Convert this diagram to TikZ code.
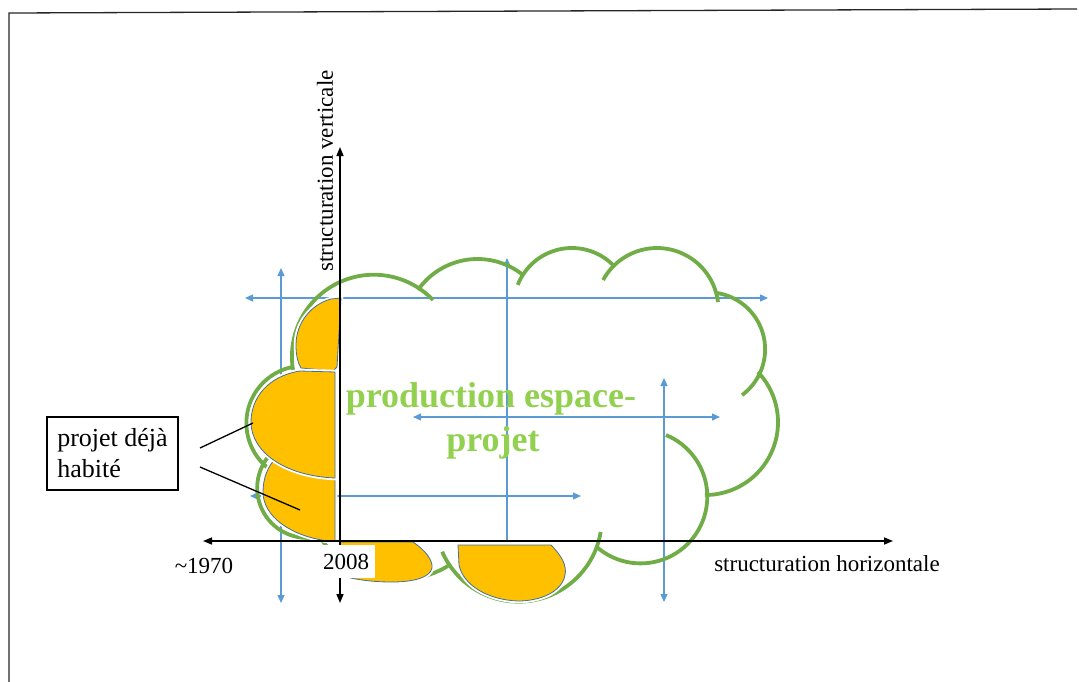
\documentclass[tikz,border=0pt]{standalone}
\usepackage{fontspec}
\setmainfont{Liberation Serif}
\usetikzlibrary{arrows.meta}
\definecolor{cloudgreen}{HTML}{70AD47}
\definecolor{titlegreen}{HTML}{92D050}
\definecolor{axisblue}{HTML}{5B9BD5}
\definecolor{lobefill}{HTML}{FFC000}
\definecolor{lobeline}{HTML}{41719C}
\begin{document}
\begin{tikzpicture}[x=1pt,y=-1pt,
  frameline/.style={line width=1.3pt, black!85},
  mainaxis/.style={line width=1.5pt, black,
    {Triangle[length=9pt,width=7pt]}-{Triangle[length=9pt,width=7pt]}},
  guide/.style={line width=1.3pt, axisblue},
  bothtips/.style={{Triangle[length=8pt,width=7pt]}-{Triangle[length=8pt,width=7pt]}},
  uptip/.style={-{Triangle[length=8pt,width=7pt]}},
  cloudarc/.style={line width=3.8pt, cloudgreen},
  lobe/.style={fill=lobefill, draw=lobeline, line width=0.8pt,
    preaction={draw=white, line width=4.5pt}},
  axislabel/.style={font=\fontsize{23}{27}\selectfont, inner sep=0pt},
  titletext/.style={font=\fontsize{36}{42}\selectfont\bfseries, text=titlegreen, inner sep=0pt},
  callout/.style={line width=1.3pt, black}
]
\useasboundingbox (0,0) rectangle (1079,681);

% outer frame (top and left edges)
\coordinate (fTR) at (1077,9);
\coordinate (fTL) at (9,13);
\coordinate (fBL) at (9,684);
\draw[frameline] (fTR) -- (fTL) -- (fBL);

% blue guide arrows
\coordinate (g1a) at (281,268);  \coordinate (g1b) at (281,603);
\coordinate (g2a) at (245,298);  \coordinate (g2b) at (768,298);
\coordinate (g3a) at (507,541);  \coordinate (g3b) at (507,258);
\coordinate (g4a) at (413,417);  \coordinate (g4b) at (720,417);
\coordinate (g5a) at (664,378);  \coordinate (g5b) at (664,602);
\coordinate (g6a) at (250,496);  \coordinate (g6b) at (581,496);
\draw[guide,bothtips] (g1a) -- (g1b);
\draw[guide,bothtips] (g2a) -- (g2b);
\draw[guide,uptip]    (g3a) -- (g3b);
\draw[guide,bothtips] (g4a) -- (g4b);
\draw[guide,bothtips] (g5a) -- (g5b);
\draw[guide,bothtips] (g6a) -- (g6b);

% cloud outline, one circular arc per lobe
\foreach \cx/\cy/\r/\a/\b in {
  373.8/356.6/81.9/170.6/316.3,
  477.5/331.7/72.7/215/308.7,
  571.9/306.2/58.2/201.5/315,
  657.0/309.4/61.4/208.6/353.1,
  708.1/349.3/57.0/-81/53.4,
  705.2/422.2/72.8/-43.6/90.2,
  640.6/496.7/66.7/-67.6/130.9,
  518.5/518.4/83.3/9.4/156.4,
  399.0/484.8/94.8/58.9/144.4,
  307.1/488.0/49.9/78.6/222,
  303.7/423.2/57.3/128.6/259.2}
  \draw[cloudarc] plot[domain=\a:\b, samples=50, variable=\t]
    ({\cx+\r*cos(\t)},{\cy+\r*sin(\t)});

% orange lobes
\draw[lobe] (335,462) -- (335,541) -- (328,541)
  .. controls (290,536) and (263,516) .. (263,492)
  .. controls (263,478) and (268,466) .. (276,458) -- cycle;
\draw[lobe] (341,298) -- (331,299)
  .. controls (312,304) and (296,322) .. (296,345)
  .. controls (296,356) and (298,363) .. (301,368)
  -- (333,371) -- (337,367) -- cycle;
\draw[lobe] (335,372) -- (300,371)
  .. controls (268,376) and (251,398) .. (251,422)
  .. controls (251,452) and (285,476) .. (335,478) -- cycle;
\draw[lobe] (340,542) -- (413,542)
  .. controls (425,550) and (433,560) .. (432,568)
  .. controls (430,578) and (412,582) .. (392,582)
  .. controls (370,582) and (352,579) .. (340,575) -- cycle;
\draw[lobe] (458,545) -- (551,545)
  .. controls (562,556) and (567,566) .. (565,575)
  .. controls (562,592) and (540,601) .. (518,601)
  .. controls (488,600) and (463,585) .. (459,565) -- cycle;

% main axes
\coordinate (xL) at (203,541); \coordinate (xR) at (893,541);
\coordinate (yB) at (340,603); \coordinate (yT) at (340,147);
\draw[mainaxis] (xL) -- (xR);
\draw[mainaxis] (yB) -- (yT);

% axis labels
\node[axislabel] (t1970) at (204,566) {\textasciitilde1970};
\node[axislabel, fill=white, minimum width=57pt, minimum height=33pt] (t2008) at (346,561.5) {2008};
\node[axislabel] (xlab) at (827,564) {structuration horizontale};
\node[axislabel, rotate=90] (ylab) at (325,171) {structuration verticale};

% central title
\node[titletext] (title1) at (491,399) {production espace-};
\node[titletext] (title2) at (493,443) {projet};

% callout box and its leader lines
\node[draw, line width=1.3pt, minimum width=131pt, minimum height=73pt,
      align=left, font=\fontsize{26}{31}\selectfont, inner sep=0pt]
  (note) at (112.5,453.5) {projet déjà\\habité};
\coordinate (c1s) at (200,448); \coordinate (c1e) at (253,423);
\coordinate (c2s) at (200,467); \coordinate (c2e) at (300,510);
\draw[callout] (c1s) -- (c1e);
\draw[callout] (c2s) -- (c2e);
\end{tikzpicture}
\end{document}
